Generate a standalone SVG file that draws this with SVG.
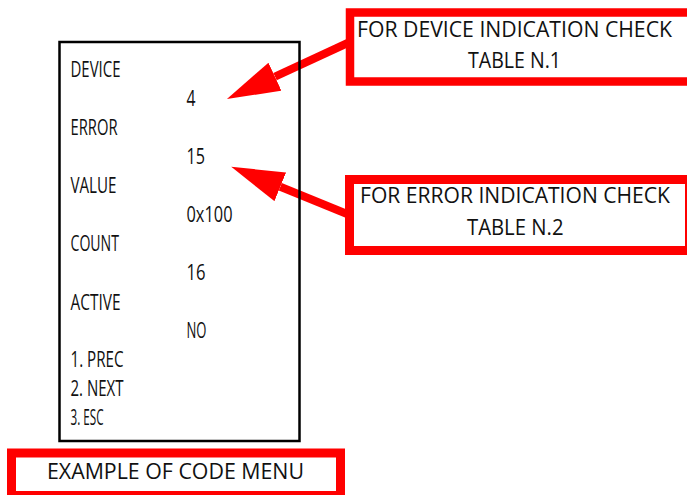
<svg xmlns="http://www.w3.org/2000/svg" width="687" height="495" viewBox="0 0 687 495">
<style>
.t{font-family:"Open Sans","Liberation Sans",sans-serif;fill:#111;}
.m{font-size:21px;}
.b{font-size:21px;}
.red{fill:#fff;stroke:#ff0000;}
.conn{stroke:#ff0000;stroke-width:8;fill:none;}
</style>
<defs>
<marker id="head" markerUnits="userSpaceOnUse" markerWidth="54" markerHeight="32" refX="0" refY="15.5" orient="auto">
<path d="M0,0 L53,15.5 L0,31 z" fill="#ff0000"/>
</marker>
</defs>
<rect width="687" height="495" fill="#fff"/>
<g id="connectors">
<line class="conn" x1="352" y1="41" x2="275" y2="76.7" marker-end="url(#head)"/>
<line class="conn" x1="352" y1="216" x2="280.3" y2="186.8" marker-end="url(#head)"/>
</g>
<g id="menu">
<rect x="59.5" y="42" width="240" height="399" fill="none" stroke="#000" stroke-width="2.5"/>
<text class="t m" x="70.5" y="76.7" textLength="50" lengthAdjust="spacingAndGlyphs">DEVICE</text>
<text class="t m" x="186.5" y="105.7" textLength="9" lengthAdjust="spacingAndGlyphs">4</text>
<text class="t m" x="70.5" y="134.8" textLength="47" lengthAdjust="spacingAndGlyphs">ERROR</text>
<text class="t m" x="186.5" y="163.8" textLength="18.5" lengthAdjust="spacingAndGlyphs">15</text>
<text class="t m" x="70.5" y="192.8" textLength="46" lengthAdjust="spacingAndGlyphs">VALUE</text>
<text class="t m" x="186.5" y="221.8" textLength="46" lengthAdjust="spacingAndGlyphs">0x100</text>
<text class="t m" x="70.5" y="250.9" textLength="48.5" lengthAdjust="spacingAndGlyphs">COUNT</text>
<text class="t m" x="186.5" y="279.9" textLength="19" lengthAdjust="spacingAndGlyphs">16</text>
<text class="t m" x="70.5" y="309.5" textLength="50" lengthAdjust="spacingAndGlyphs">ACTIVE</text>
<text class="t m" x="186.5" y="337.5" textLength="20" lengthAdjust="spacingAndGlyphs">NO</text>
<text class="t m" x="70.5" y="367" textLength="53" lengthAdjust="spacingAndGlyphs">1. PREC</text>
<text class="t m" x="70.5" y="396" textLength="53" lengthAdjust="spacingAndGlyphs">2. NEXT</text>
<text class="t m" x="70.5" y="425" textLength="33" lengthAdjust="spacingAndGlyphs">3. ESC</text>
</g>
<g id="device-note">
<rect class="red" x="350" y="12.5" width="345" height="69" stroke-width="8.5"/>
<text class="t b" x="357" y="37" textLength="315" lengthAdjust="spacingAndGlyphs">FOR DEVICE INDICATION CHECK</text>
<text class="t b" x="468" y="68.3" textLength="93" lengthAdjust="spacingAndGlyphs">TABLE N.1</text>
</g>
<g id="error-note">
<rect class="red" x="349.5" y="179.5" width="340" height="71" stroke-width="9"/>
<text class="t b" x="360" y="203.3" textLength="310" lengthAdjust="spacingAndGlyphs">FOR ERROR INDICATION CHECK</text>
<text class="t b" x="467" y="235" textLength="96.5" lengthAdjust="spacingAndGlyphs">TABLE N.2</text>
</g>
<g id="caption">
<rect class="red" x="11.5" y="453" width="329" height="42.5" stroke-width="9"/>
<text class="t b" x="47" y="479.3" textLength="257" lengthAdjust="spacingAndGlyphs">EXAMPLE OF CODE MENU</text>
</g>
</svg>
